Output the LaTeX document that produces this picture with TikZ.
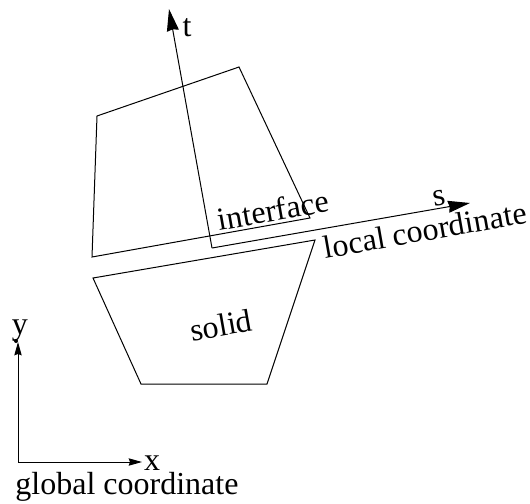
\documentclass[tikz,border=0pt]{standalone}
\usepackage{fontspec}
\setmainfont{Liberation Serif}
\usetikzlibrary{arrows.meta,positioning}

\begin{document}
\begin{tikzpicture}[
  x=0.75pt,y=-0.75pt,
  line width=0.75pt,
  lbl/.style={inner sep=0pt,font=\fontsize{24}{24}\selectfont},
  big/.style={-{Stealth[length=16.5pt,width=9pt,inset=1pt]}},
  small/.style={-{Stealth[length=10pt,width=5.5pt,inset=1pt]}}
]
\useasboundingbox (0,0) rectangle (530,503);

% interface part
\coordinate (a1) at (97,116);
\coordinate (a2) at (239,67);
\coordinate (a3) at (310,218);
\coordinate (a4) at (92,257);
\draw (a1) -- (a2) -- (a3) -- (a4) -- cycle;

% solid part
\coordinate (b1) at (93,278);
\coordinate (b2) at (315,240);
\coordinate (b3) at (267,384);
\coordinate (b4) at (141,384);
\draw (b1) -- (b2) -- (b3) -- (b4) -- cycle;

% local axes
\coordinate (lo) at (212,248);
\coordinate (ls) at (470,203);
\coordinate (lt) at (169,9);
\draw[big] (lo) -- (lt);
\draw[big] (lo) -- (ls);

% global axes
\coordinate (go) at (18,462);
\coordinate (gx) at (142,462);
\coordinate (gy) at (18,342);
\draw[small] (go) -- (gx);
\draw[small] (go) -- (gy);
\fill (16,341) circle (1.5pt);

\node[lbl] (t) at (187,28) {t};
\node[lbl,rotate=10] (s) at (439,198) {s};
\node[lbl,rotate=10] (iface) at (273,210) {interface};
\node[lbl,rotate=10] (lc) at (425,230) {local coordinate};
\node[lbl,rotate=10] (so) at (221,325) {solid};
\node[lbl] (y) at (20,331) {y};
\node[lbl] (x) at (152,463) {x};
\node[lbl] (gc) at (127,487) {global coordinate};
\end{tikzpicture}
\end{document}
